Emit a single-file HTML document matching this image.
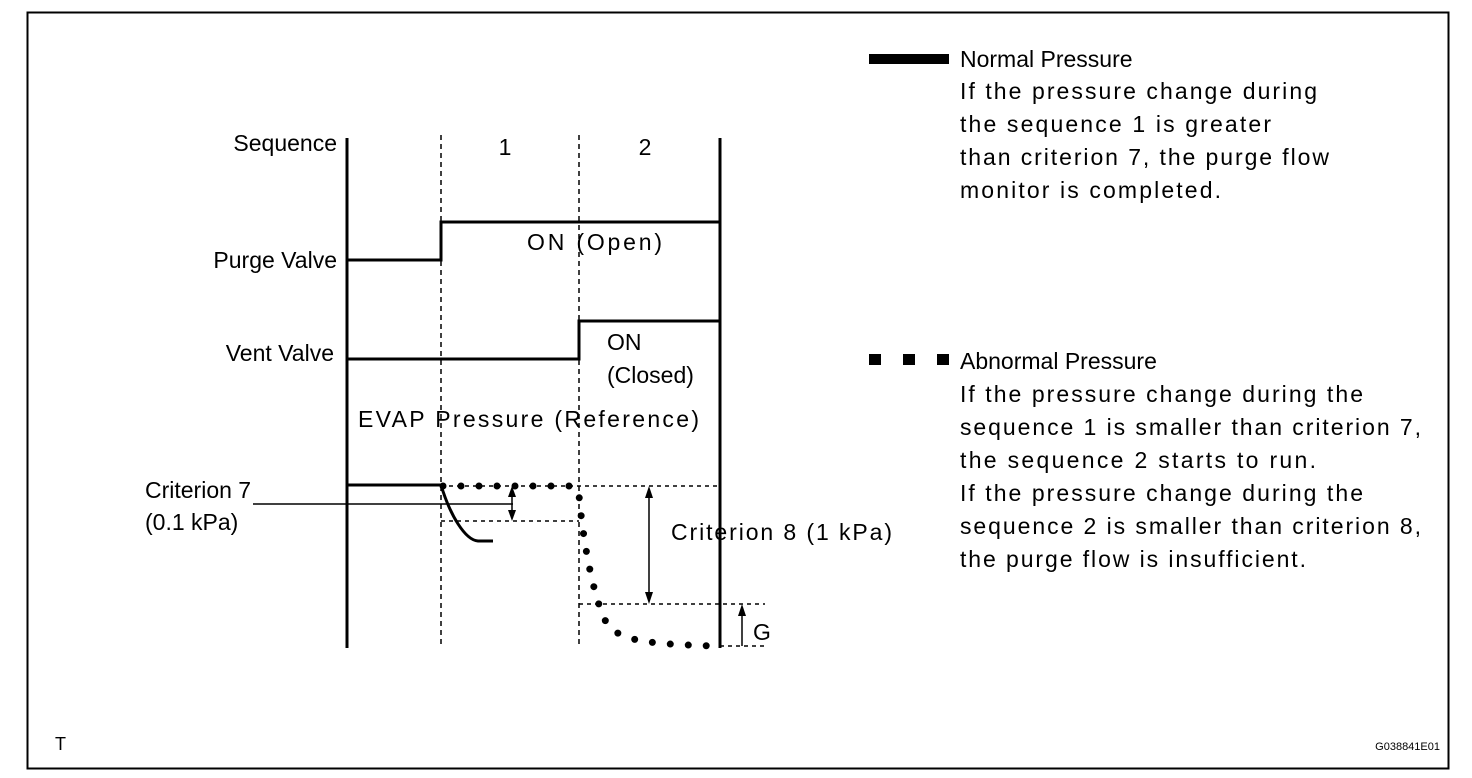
<!DOCTYPE html>
<html><head><meta charset="utf-8"><style>
html,body{margin:0;padding:0;background:#fff;}
svg{display:block;font-family:"Liberation Sans",Arial,sans-serif;}
text{font-size:23px;fill:#000;}
</style></head><body>
<svg width="1472" height="778" viewBox="0 0 1472 778" xmlns="http://www.w3.org/2000/svg">
<rect x="27.5" y="12.5" width="1421" height="756" fill="none" stroke="#000" stroke-width="2"/>
<!-- axes -->
<line x1="347" y1="138" x2="347" y2="648" stroke="#000" stroke-width="3"/>
<line x1="720" y1="138" x2="720" y2="648" stroke="#000" stroke-width="3"/>
<line x1="441" y1="135" x2="441" y2="648" stroke="#000" stroke-width="1.5" stroke-dasharray="5,4"/>
<line x1="579" y1="135" x2="579" y2="648" stroke="#000" stroke-width="1.5" stroke-dasharray="5,4"/>
<!-- purge valve -->
<polyline points="347,260 441,260 441,222 720,222" fill="none" stroke="#000" stroke-width="3"/>
<!-- vent valve -->
<polyline points="347,359 579,359 579,321 720,321" fill="none" stroke="#000" stroke-width="3"/>
<!-- criterion 7 -->
<line x1="347" y1="485" x2="441" y2="485" stroke="#000" stroke-width="3"/>
<line x1="253" y1="504" x2="513" y2="504" stroke="#000" stroke-width="1.5"/>
<path d="M441,485 C450,515 465,540 478,541 L493,541" fill="none" stroke="#000" stroke-width="3"/>
<!-- dashed horizontals -->
<g stroke="#000" stroke-width="1.5" stroke-dasharray="4,4">
<line x1="441" y1="486" x2="720" y2="486"/>
<line x1="441" y1="521" x2="579" y2="521"/>
<line x1="579" y1="604" x2="765" y2="604"/>
<line x1="720" y1="646" x2="765" y2="646"/>
</g>
<!-- dotted abnormal curve -->
<path d="M443,486 L570,486 Q578,486 579,495 C583,540 592,590 604,618 C614,640 640,644 716,646" fill="none" stroke="#000" stroke-width="7" stroke-linecap="round" stroke-dasharray="0,18"/>
<!-- arrows -->
<g stroke="#000" stroke-width="1.5">
<line x1="512" y1="492" x2="512" y2="515"/>
<line x1="649" y1="492" x2="649" y2="598"/>
<line x1="742" y1="612" x2="742" y2="646"/>
</g>
<g fill="#000">
<polygon points="512,486 508,497 516,497"/>
<polygon points="512,521 508,510 516,510"/>
<polygon points="649,486 645,498 653,498"/>
<polygon points="649,604 645,592 653,592"/>
<polygon points="742,604 738,616 746,616"/>
</g>
<!-- labels -->
<text x="337" y="151" text-anchor="end">Sequence</text>
<text x="505" y="155" text-anchor="middle">1</text>
<text x="645" y="155" text-anchor="middle">2</text>
<text x="337" y="268" text-anchor="end">Purge Valve</text>
<text x="527" y="250" textLength="135">ON (Open)</text>
<text x="334" y="361" text-anchor="end">Vent Valve</text>
<text x="607" y="350">ON</text>
<text x="607" y="383">(Closed)</text>
<text x="358" y="427" textLength="341">EVAP Pressure (Reference)</text>
<text x="145" y="498">Criterion 7</text>
<text x="145" y="530">(0.1 kPa)</text>
<text x="671" y="540" textLength="221">Criterion 8 (1 kPa)</text>
<text x="753" y="640">G</text>
<!-- legend -->
<rect x="869" y="54" width="80" height="10" fill="#000"/>
<rect x="869" y="354" width="12" height="11" fill="#000"/>
<rect x="903" y="354" width="12" height="11" fill="#000"/>
<rect x="937" y="354" width="12" height="11" fill="#000"/>
<text x="960" y="67">Normal Pressure</text>
<text x="960" y="99" textLength="357">If the pressure change during</text>
<text x="960" y="132" textLength="311">the sequence 1 is greater</text>
<text x="960" y="165" textLength="369">than criterion 7, the purge flow</text>
<text x="960" y="198" textLength="261">monitor is completed.</text>
<text x="960" y="369">Abnormal Pressure</text>
<text x="960" y="402" textLength="403">If the pressure change during the</text>
<text x="960" y="435" textLength="461">sequence 1 is smaller than criterion 7,</text>
<text x="960" y="468" textLength="356">the sequence 2 starts to run.</text>
<text x="960" y="501" textLength="403">If the pressure change during the</text>
<text x="960" y="534" textLength="461">sequence 2 is smaller than criterion 8,</text>
<text x="960" y="567" textLength="346">the purge flow is insufficient.</text>
<text x="55" y="750" style="font-size:18px">T</text>
<text x="1440" y="750" text-anchor="end" style="font-size:11px">G038841E01</text>
</svg>
</body></html>
